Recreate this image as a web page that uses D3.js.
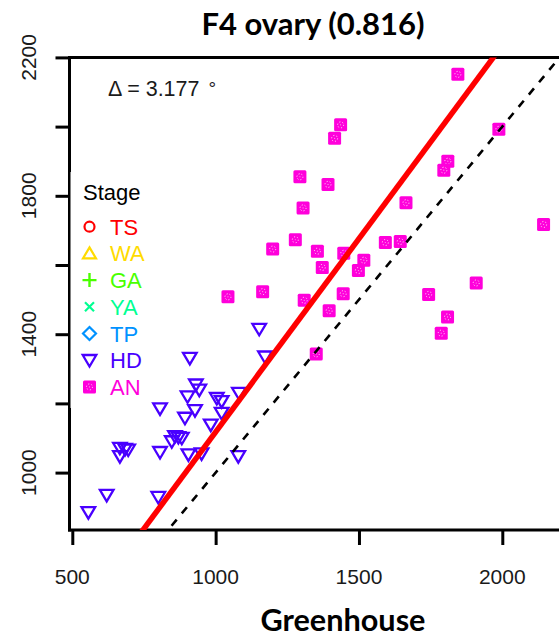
<!DOCTYPE html>
<html>
<head>
<meta charset="utf-8">
<script src="https://cdn.jsdelivr.net/npm/d3@7"></script>
<style>
  html, body { margin: 0; padding: 0; background: #fff; }
  svg { display: block; }
</style>
</head>
<body>
<svg id="chart" width="559" height="641"></svg>
<script>
// ---------------- data ----------------
const titleText = "F4 ovary (0.816)";
const xLabel = "Greenhouse";
const deltaMain = "\u0394 = 3.177";
const deltaUnit = "\u00B0";
const xTicks = [500, 1000, 1500, 2000];
const yTicks = [1000, 1200, 1400, 1600, 1800, 2000, 2200];
const yTickLabels = [1000, 1400, 1800, 2200];

const stages = ["TS", "WA", "GA", "YA", "TP", "HD", "AN"];
const stageColors = ["#FF0000", "#FFDB00", "#49FF00", "#00FF92", "#0092FF", "#4900FF", "#FF00DB"];
const stageShapes = ["circle", "triUp", "plus", "cross", "diamond", "triDown", "square"];

// HD (x = greenhouse, y = field)
const hdX = [910, 931, 943, 902, 1004, 1021, 1081, 806, 928, 893, 1021, 983, 847, 870, 882, 858,
             666, 684, 695, 666, 806, 905, 951, 1079, 620, 800, 556, 1152, 1172];
const hdY = [1331, 1254, 1239, 1220, 1215, 1206, 1230, 1185, 1180, 1158, 1172, 1138, 1090, 1102, 1100, 1105,
             1071, 1068, 1066, 1047, 1059, 1052, 1055, 1047, 935, 929, 885, 1415, 1335];
// AN
const anX = [1845, 1436, 1415, 1988, 1810, 1796, 1294, 1392, 1664, 1305, 1199, 1278, 1355, 1447, 1517,
             1498, 1372, 1592, 1644, 2144, 1043, 1164, 1309, 1445, 1396, 1909, 1743, 1809, 1787, 1351];
const anY = [2151, 2005, 1966, 1992, 1900, 1874, 1855, 1833, 1780, 1765, 1646, 1673, 1640, 1634, 1614,
             1584, 1593, 1665, 1668, 1717, 1508, 1523, 1498, 1517, 1468, 1548, 1515, 1450, 1403, 1343];

// fitted line (field = intercept + slope * greenhouse)
const fitSlope = 1.1174;
const fitIntercept = 0;

// ---------------- layout ----------------
const svg = d3.select("#chart");
const plot = { left: 69.5, top: 57.5, bottom: 530, right: 565 };
const x = d3.scaleLinear().domain([500, 2000]).range([72.3, 502.3]);
const y = d3.scaleLinear().domain([1000, 2200]).range([472.6, 57.4]);
const xDom = [x.invert(plot.left), x.invert(plot.right)];

const armFont = "'Liberation Sans', Arial, sans-serif";
const boldFont = "Lato, 'Open Sans', sans-serif";

svg.append("defs").append("clipPath").attr("id", "clip")
  .append("rect").attr("x", plot.left).attr("y", plot.top)
  .attr("width", plot.right - plot.left).attr("height", plot.bottom - plot.top);

// top frame
svg.append("line").attr("x1", plot.left).attr("x2", plot.right).attr("y1", plot.top).attr("y2", plot.top)
  .attr("stroke", "#000").attr("stroke-width", 3);

// y axis
const yAxis = d3.axisLeft(y).tickValues(yTicks).tickSize(14).tickFormat("");
const gy = svg.append("g").attr("transform", `translate(${plot.left},0)`).call(yAxis);
gy.select(".domain").remove();
gy.selectAll(".tick line").attr("stroke", "#000").attr("stroke-width", 3);
svg.append("line").attr("x1", plot.left).attr("x2", plot.left)
  .attr("y1", plot.top - 1.5).attr("y2", plot.bottom + 1.5)
  .attr("stroke", "#000").attr("stroke-width", 3);

yTickLabels.forEach(v => {
  svg.append("text")
    .attr("transform", `translate(36,${y(v)}) rotate(-90)`)
    .attr("text-anchor", "middle")
    .attr("font-family", armFont).attr("font-size", 21).attr("fill", "#1a1a1a")
    .text(v);
});

// x axis
const xAxis = d3.axisBottom(x).tickValues(xTicks).tickSize(15).tickFormat("");
const gx = svg.append("g").attr("transform", `translate(0,${plot.bottom})`).call(xAxis);
gx.select(".domain").remove();
gx.selectAll(".tick line").attr("stroke", "#000").attr("stroke-width", 3);
svg.append("line").attr("x1", plot.left - 1.5).attr("x2", plot.right)
  .attr("y1", plot.bottom).attr("y2", plot.bottom)
  .attr("stroke", "#000").attr("stroke-width", 3);
xTicks.forEach(v => {
  svg.append("text")
    .attr("x", x(v)).attr("y", 584)
    .attr("text-anchor", "middle")
    .attr("font-family", armFont).attr("font-size", 21).attr("fill", "#1a1a1a")
    .text(v);
});

// title and x label
function fitText(sel, targetW) {
  const w = sel.node().getComputedTextLength();
  const fs = parseFloat(sel.attr("font-size"));
  sel.attr("font-size", fs * targetW / w);
}
const tt = svg.append("text").attr("x", 313).attr("y", 35).attr("text-anchor", "middle")
  .attr("font-family", boldFont).attr("font-weight", "bold").attr("font-size", 30)
  .attr("fill", "#000").text(titleText);
fitText(tt, 223);
const xl = svg.append("text").attr("x", 343).attr("y", 631).attr("text-anchor", "middle")
  .attr("font-family", boldFont).attr("font-weight", "bold").attr("font-size", 30)
  .attr("fill", "#000").text(xLabel);
fitText(xl, 165);

// delta annotation
const dt = svg.append("text").attr("x", 108).attr("y", 96)
  .attr("font-family", armFont).attr("font-size", 21.5).attr("fill", "#1a1a1a");
dt.append("tspan").text(deltaMain);
dt.append("tspan").attr("dx", 9).attr("dy", -1).attr("font-size", 19).text(deltaUnit);

// legend background (covers part of the frame)
svg.append("rect").attr("x", 70.5).attr("y", 172).attr("width", 85).attr("height", 236).attr("fill", "#fff");

// ---------------- markers ----------------
function drawShape(g, shape, color) {
  if (shape === "circle") {
    g.append("circle").attr("r", 5).attr("fill", "none").attr("stroke", color).attr("stroke-width", 2.2);
  } else if (shape === "triUp") {
    g.append("path").attr("d", "M0,-6 L6.5,5 L-6.5,5 Z").attr("fill", "none").attr("stroke", color).attr("stroke-width", 2.2);
  } else if (shape === "triDown") {
    g.append("path").attr("d", "M-6.8,-5.2 L6.8,-5.2 L0,6.3 Z").attr("fill", "none").attr("stroke", color).attr("stroke-width", 2.3);
  } else if (shape === "plus") {
    g.append("path").attr("d", "M-7,0 L7,0 M0,-7 L0,7").attr("stroke", color).attr("stroke-width", 2.4);
  } else if (shape === "cross") {
    g.append("path").attr("d", "M-4.5,-4.5 L4.5,4.5 M-4.5,4.5 L4.5,-4.5").attr("stroke", color).attr("stroke-width", 2.2);
  } else if (shape === "diamond") {
    g.append("path").attr("d", "M0,-6.5 L6.5,0 L0,6.5 L-6.5,0 Z").attr("fill", "none").attr("stroke", color).attr("stroke-width", 2.2);
  } else if (shape === "square") {
    g.append("rect").attr("x", -6.5).attr("y", -6.5).attr("width", 13).attr("height", 13).attr("rx", 1.5)
      .attr("fill", color);
    g.append("circle").attr("r", 3).attr("fill", "none").attr("stroke", "#fff").attr("stroke-width", 1)
      .attr("stroke-dasharray", "1.1 2").attr("opacity", 0.85);
    g.append("circle").attr("r", 0.6).attr("fill", "#fff").attr("opacity", 0.6);
  }
}

// legend
const legend = svg.append("g");
legend.append("text").attr("x", 83).attr("y", 200)
  .attr("font-family", armFont).attr("font-size", 22).attr("fill", "#000").text("Stage");
stages.forEach((s, i) => {
  const cy = 226.7 + i * 26.7;
  const g = legend.append("g").attr("transform", `translate(89.5,${cy})`);
  drawShape(g, stageShapes[i], stageColors[i]);
  legend.append("text").attr("x", 110).attr("y", cy + 8)
    .attr("font-family", armFont).attr("font-size", 22).attr("fill", stageColors[i]).text(s);
});

// points
const pts = svg.append("g").attr("clip-path", "url(#clip)");
const hd = hdX.map((v, i) => ({ x: v, y: hdY[i] }));
const an = anX.map((v, i) => ({ x: v, y: anY[i] }));
pts.selectAll("g.hd").data(hd).join("g").attr("class", "hd")
  .attr("transform", d => `translate(${x(d.x)},${y(d.y)})`)
  .each(function () { drawShape(d3.select(this), "triDown", stageColors[5]); });
pts.selectAll("g.an").data(an).join("g").attr("class", "an")
  .attr("transform", d => `translate(${x(d.x)},${y(d.y)})`)
  .each(function () { drawShape(d3.select(this), "square", stageColors[6]); });

// lines: identity (dashed) and fitted (red)
const lines = svg.append("g").attr("clip-path", "url(#clip)");
lines.append("line")
  .attr("x1", x(xDom[0])).attr("y1", y(xDom[0]))
  .attr("x2", x(xDom[1])).attr("y2", y(xDom[1]))
  .attr("stroke", "#000").attr("stroke-width", 2.6).attr("stroke-dasharray", "8 8");
lines.append("line")
  .attr("x1", x(xDom[0])).attr("y1", y(fitIntercept + fitSlope * xDom[0]))
  .attr("x2", x(xDom[1])).attr("y2", y(fitIntercept + fitSlope * xDom[1]))
  .attr("stroke", "#FF0000").attr("stroke-width", 5.5);
</script>
</body>
</html>
